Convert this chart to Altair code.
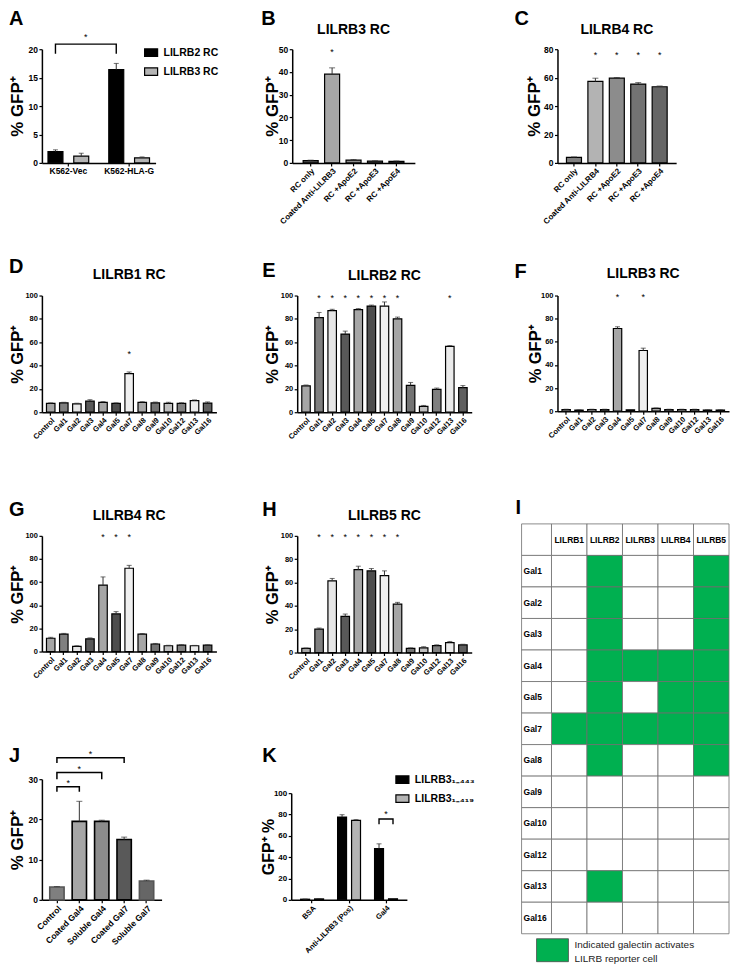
import altair as alt
import pandas as pd

FONT = "Liberation Sans"
YT = "% GFP\u207a"

# ---------------- data ----------------
# Panel A
a_groups = ["K562-Vec", "K562-HLA-G"]
a_series = ["LILRB2 RC", "LILRB3 RC"]
a_vals = {"LILRB2 RC": [2.0, 16.4], "LILRB3 RC": [1.2, 0.9]}
a_errs = {"LILRB2 RC": [0.3, 1.1], "LILRB3 RC": [0.5, 0.15]}
a_colors = ["#000000", "#b4b4b4"]
a_brackets = [("K562-Vec", "LILRB2 RC", "K562-HLA-G", "LILRB2 RC", 19.2, 20.9, 22.4)]

# Panel B
b_cats = ["RC only", "Coated Anti-LILRB3", "RC +ApoE2", "RC +ApoE3", "RC +ApoE4"]
b_vals = [1.0, 39.0, 1.2, 0.8, 0.7]
b_errs = [0.2, 2.8, 0.3, 0.15, 0.15]
b_colors = ["#595959", "#a6a6a6", "#8c8c8c", "#666666", "#4d4d4d"]
b_stars = ["Coated Anti-LILRB3"]
b_star_y = 49.0

# Panel C
c_cats = ["RC only", "Coated Anti-LILRB4", "RC +ApoE2", "RC +ApoE3", "RC +ApoE4"]
c_vals = [3.9, 57.3, 59.6, 55.5, 53.6]
c_errs = [0.3, 2.3, 0.5, 1.0, 0.5]
c_colors = ["#808080", "#b3b3b3", "#8c8c8c", "#737373", "#666666"]
c_stars = ["Coated Anti-LILRB4", "RC +ApoE2", "RC +ApoE3", "RC +ApoE4"]
c_star_y = 76.5

# Panels D-H (galectin screens)
gal_cats = ["Control", "Gal1", "Gal2", "Gal3", "Gal4", "Gal5", "Gal7", "Gal8",
            "Gal9", "Gal10", "Gal12", "Gal13", "Gal16"]
gal_colors = ["#a6a6a6", "#7f7f7f", "#e6e6e6", "#595959", "#a6a6a6", "#4d4d4d", "#efefef",
              "#a6a6a6", "#737373", "#bfbfbf", "#808080", "#ebebeb", "#5f5f5f"]

d_vals = [7.5, 8.0, 7.2, 9.5, 8.5, 7.5, 33.0, 8.5, 8.0, 7.5, 7.5, 10.0, 7.8]
d_errs = [0.5, 0.5, 0.5, 1.2, 0.6, 0.5, 1.5, 0.5, 0.7, 1.0, 0.6, 0.5, 1.0]
d_stars = ["Gal7"]
d_star_y = 51.0

e_vals = [22.5, 81.0, 87.0, 67.0, 88.0, 91.0, 91.0, 80.0, 23.0, 5.0, 19.5, 56.5, 21.0]
e_errs = [0.8, 4.5, 1.2, 2.5, 0.8, 0.8, 3.5, 1.5, 2.5, 0.8, 1.2, 0.6, 1.8]
e_stars = ["Gal1", "Gal2", "Gal3", "Gal4", "Gal5", "Gal7", "Gal8", "Gal13"]
e_star_y = 99.0

f_vals = [1.5, 1.0, 1.5, 1.5, 71.5, 1.2, 52.5, 2.5, 1.5, 1.5, 1.5, 1.0, 1.0]
f_errs = [0.2, 0.2, 0.2, 0.2, 1.5, 0.2, 2.0, 0.3, 0.2, 0.2, 0.2, 0.2, 0.2]
f_stars = ["Gal4", "Gal7"]
f_star_y = 100.0

g_vals = [11.5, 15.0, 4.5, 11.0, 57.5, 32.5, 72.0, 15.0, 6.5, 5.0, 5.5, 5.0, 5.5]
g_errs = [0.8, 0.7, 0.5, 0.8, 7.0, 2.0, 2.5, 0.6, 0.5, 0.4, 0.4, 0.3, 0.3]
g_stars = ["Gal4", "Gal5", "Gal7"]
g_star_y = 100.0

h_vals = [3.5, 20.0, 61.5, 31.0, 71.0, 70.0, 66.0, 41.5, 3.5, 4.0, 6.0, 8.5, 6.5]
h_errs = [0.4, 1.0, 2.0, 2.0, 3.0, 2.0, 4.0, 1.5, 0.5, 1.0, 0.6, 1.0, 0.6]
h_stars = ["Gal1", "Gal2", "Gal3", "Gal4", "Gal5", "Gal7", "Gal8"]
h_star_y = 99.5

# Panel I
i_cols = ["LILRB1", "LILRB2", "LILRB3", "LILRB4", "LILRB5"]
i_rows = ["Gal1", "Gal2", "Gal3", "Gal4", "Gal5", "Gal7", "Gal8", "Gal9", "Gal10",
          "Gal12", "Gal13", "Gal16"]
i_active = {
    "Gal1": ["LILRB2", "LILRB5"],
    "Gal2": ["LILRB2", "LILRB5"],
    "Gal3": ["LILRB2", "LILRB5"],
    "Gal4": ["LILRB2", "LILRB3", "LILRB4", "LILRB5"],
    "Gal5": ["LILRB2", "LILRB4", "LILRB5"],
    "Gal7": ["LILRB1", "LILRB2", "LILRB3", "LILRB4", "LILRB5"],
    "Gal8": ["LILRB2", "LILRB5"],
    "Gal13": ["LILRB2"],
}
i_legend = ["Indicated galectin activates", "LILRB reporter cell"]

# Panel J
j_cats = ["Control", "Coated Gal4", "Soluble Gal4", "Coated Gal7", "Soluble Gal7"]
j_vals = [3.2, 19.5, 19.5, 15.0, 4.7]
j_errs = [0.1, 5.0, 0.3, 0.6, 0.2]
j_colors = ["#7f7f7f", "#a6a6a6", "#8c8c8c", "#595959", "#666666"]
j_strokes = ["#555555", "#000000", "#000000", "#000000", "#555555"]
j_brackets = [("Control", "Coated Gal4", 26.9, 28.1, 29.4),
              ("Control", "Soluble Gal4", 30.0, 31.65, 32.9),
              ("Control", "Coated Gal7", 34.0, 35.3, 36.6)]

# Panel K
k_groups = ["BSA", "Anti-LILRB3 (Pos)", "Gal4"]
k_series = ["LILRB3\u2081\u208b\u2084\u2084\u2083", "LILRB3\u2081\u208b\u2084\u2081\u2089"]
k_vals = {k_series[0]: [0.6, 77.6, 48.1], k_series[1]: [0.9, 74.5, 1.0]}
k_errs = {k_series[0]: [0.2, 2.2, 4.4], k_series[1]: [0.2, 0.7, 0.3]}
k_colors = ["#000000", "#b4b4b4"]
k_brackets = [("Gal4", k_series[0], "Gal4", k_series[1], 70.8, 75.8, 81.4)]


# ---------------- helpers ----------------
def one():
    return pd.DataFrame({"z": [0]})


def frame(x0, x1, y0, y1):
    return alt.Chart(one()).mark_rect(opacity=0).encode(
        x=alt.value(x0), x2=alt.value(x1), y=alt.value(y0), y2=alt.value(y1))


def letter(t, x, y):
    return alt.Chart(one()).mark_text(
        text=t, fontSize=20, fontWeight="bold", align="left", baseline="top",
        color="black").encode(x=alt.value(x), y=alt.value(y))


def title_text(t, x, y):
    return alt.Chart(one()).mark_text(
        text=t, fontSize=14, fontWeight="bold", align="center", baseline="middle",
        color="black").encode(x=alt.value(x), y=alt.value(y))


def xaxis(angle=-45, size=7.5):
    return alt.Axis(title=None, labelAngle=angle, labelFontSize=size, labelFontWeight="bold",
                    labelOverlap=False, tickSize=3, tickWidth=1.2, domainWidth=1.5,
                    labelPadding=1, labelColor="black", tickColor="black",
                    domainColor="black", grid=False)


def yaxis(ticks, tx, tsize=17, lsize=7.5, title=YT):
    return alt.Axis(values=ticks, title=title, titleX=tx, titleBaseline="middle",
                    titleFontSize=tsize, titleFontWeight="bold", titleColor="black",
                    labelFontSize=lsize, labelFontWeight="bold", labelColor="black",
                    tickSize=3, tickWidth=1.2, domainWidth=1.5, labelPadding=1.5,
                    tickColor="black", domainColor="black", grid=False, minExtent=0)


def bar_panel(cats, vals, errs, colors, ymax, yticks, w, h, fr, let, let_xy,
              title=None, title_y=-20, ytx=-24, ytsize=17, ylab=7.5, xlab=7.5,
              pin=0.35, pout=0.35, stars=(), star_y=None, cap=5, strokes=None,
              sw=1.2, brackets=()):
    df = pd.DataFrame({"cat": cats, "v": vals, "e": errs})
    df["top"] = df["v"] + df["e"]
    if strokes is None:
        strokes = ["#000000"] * len(cats)
    xs = alt.Scale(domain=cats, paddingInner=pin, paddingOuter=pout)
    ys = alt.Scale(domain=[0, ymax], nice=False, zero=True)
    yax = yaxis(yticks, ytx, ytsize, ylab)
    X = alt.X("cat:N", scale=xs, sort=cats, title=None, axis=xaxis(size=xlab))

    def Y(f):
        return alt.Y(f, scale=ys, title=YT, axis=yax)

    layers = [frame(*fr)]
    layers.append(alt.Chart(df).mark_bar(strokeWidth=sw).encode(
        x=X, y=Y("v:Q"),
        fill=alt.Fill("cat:N", scale=alt.Scale(domain=cats, range=colors), legend=None),
        stroke=alt.Stroke("cat:N", scale=alt.Scale(domain=cats, range=strokes), legend=None)))
    layers.append(alt.Chart(df).mark_rule(color="#333333", strokeWidth=1).encode(
        x=X, y=Y("v:Q"), y2="top:Q"))
    layers.append(alt.Chart(df).mark_tick(color="#333333", size=cap, thickness=1).encode(
        x=X, y=Y("top:Q")))
    if stars:
        sdf = pd.DataFrame({"cat": list(stars), "sy": [star_y] * len(stars)})
        layers.append(alt.Chart(sdf).mark_text(text="*", fontSize=9, baseline="alphabetic",
                                               dy=4, color="black").encode(x=X, y=Y("sy:Q")))
    step = w / (len(cats) - pin + 2 * pout)
    for (c1, c2, yl, yh, ysr) in brackets:
        bdf = pd.DataFrame({"cat": [c1, c1, c2, c2], "y": [yl, yh, yh, yl],
                            "k": [0, 1, 2, 3]})
        layers.append(alt.Chart(bdf).mark_line(color="black", strokeWidth=1.5).encode(
            x=X, y=Y("y:Q"), order="k:Q"))
        n = cats.index(c2) - cats.index(c1)
        sdf = pd.DataFrame({"cat": [c2], "sy": [ysr]})
        layers.append(alt.Chart(sdf).mark_text(text="*", fontSize=9, baseline="alphabetic",
                                               dy=4, dx=-n * step / 2,
                                               color="black").encode(x=X, y=Y("sy:Q")))
    layers.append(letter(let, *let_xy))
    if title:
        layers.append(title_text(title, w / 2, title_y))
    return alt.layer(*layers).properties(width=w, height=h)


def grouped_panel(groups, series, vals, errs, colors, ymax, yticks, w, h, fr, let, let_xy,
                  legend_xy, pin, pout, pin2, ytx, ytitle, ytsize, ylab, xlab, xangle,
                  brackets, cap=5, yrange=None):
    rows = []
    for s in series:
        for g, v, e in zip(groups, vals[s], errs[s]):
            rows.append({"grp": g, "ser": s, "v": v, "e": e})
    df = pd.DataFrame(rows)
    df["top"] = df["v"] + df["e"]
    xs = alt.Scale(domain=groups, paddingInner=pin, paddingOuter=pout)
    os_ = alt.Scale(domain=series, paddingInner=pin2, paddingOuter=0)
    if yrange is None:
        ys = alt.Scale(domain=[0, ymax], nice=False, zero=True)
    else:
        ys = alt.Scale(domain=[0, ymax], nice=False, zero=True, range=yrange)
    yax = yaxis(yticks, ytx, ytsize, ylab, title=ytitle)
    X = alt.X("grp:N", scale=xs, sort=groups, title=None, axis=xaxis(angle=xangle, size=xlab))
    XO = alt.XOffset("ser:N", scale=os_, sort=series)

    def Y(f):
        return alt.Y(f, scale=ys, title=ytitle, axis=yax)

    leg = alt.Legend(title=None, orient="none", legendX=legend_xy[0], legendY=legend_xy[1],
                     direction="vertical", symbolType="M-1,-0.58H1V0.58H-1Z",
                     symbolSize=170, symbolStrokeColor="black", symbolStrokeWidth=1.2,
                     labelFontSize=10.5, labelFontWeight="bold", labelColor="black",
                     rowPadding=5, labelOffset=5)
    layers = [frame(*fr)]
    layers.append(alt.Chart(df).mark_bar(stroke="black", strokeWidth=1.2).encode(
        x=X, xOffset=XO, y=Y("v:Q"),
        fill=alt.Fill("ser:N", scale=alt.Scale(domain=series, range=colors), legend=leg)))
    layers.append(alt.Chart(df).mark_rule(color="#333333", strokeWidth=1).encode(
        x=X, xOffset=XO, y=Y("v:Q"), y2="top:Q"))
    layers.append(alt.Chart(df).mark_tick(color="#333333", size=cap, thickness=1).encode(
        x=X, xOffset=XO, y=Y("top:Q")))
    step = w / (len(groups) - pin + 2 * pout)
    for (g1, s1, g2, s2, yl, yh, ysr) in brackets:
        bdf = pd.DataFrame({"grp": [g1, g1, g2, g2], "ser": [s1, s1, s2, s2],
                            "y": [yl, yh, yh, yl], "k": [0, 1, 2, 3]})
        layers.append(alt.Chart(bdf).mark_line(color="black", strokeWidth=1.4).encode(
            x=X, xOffset=XO, y=Y("y:Q"), order="k:Q"))
        if g1 == g2:
            sdf = pd.DataFrame({"grp": [g1], "sy": [ysr]})
            layers.append(alt.Chart(sdf).mark_text(text="*", fontSize=9, baseline="alphabetic",
                                                   dy=4, color="black").encode(
                x=X, y=Y("sy:Q")))
        else:
            n = groups.index(g2) - groups.index(g1)
            sdf = pd.DataFrame({"grp": [g2], "ser": [s2], "sy": [ysr]})
            layers.append(alt.Chart(sdf).mark_text(text="*", fontSize=9, baseline="alphabetic",
                                                   dy=4, dx=-n * step / 2,
                                                   color="black").encode(
                x=X, xOffset=XO, y=Y("sy:Q")))
    layers.append(letter(let, *let_xy))
    return alt.layer(*layers).properties(width=w, height=h)


def table_panel(w, h, top, lab_w, fr, let_xy):
    br = "hdrr"
    ydom = [br] + i_rows
    cells = []
    for r in ydom:
        for c in i_cols:
            on = r in i_active and c in i_active[r]
            cells.append({"c": c, "r": r, "s": "on" if on else "off"})
    cdf = pd.DataFrame(cells)
    xs = alt.Scale(domain=i_cols, paddingInner=0, paddingOuter=0)
    ys = alt.Scale(domain=ydom, paddingInner=0, paddingOuter=0, range=[top, h])
    Yr = alt.Y("r:N", scale=ys, sort=ydom, axis=None)
    layers = [frame(*fr)]
    layers.append(alt.Chart(cdf).mark_rect(stroke="#6f6f6f", strokeWidth=0.8).encode(
        x=alt.X("c:N", scale=xs, sort=i_cols, axis=None), y=Yr,
        fill=alt.Fill("s:N", scale=alt.Scale(domain=["off", "on"],
                                             range=["#ffffff", "#00b050"]), legend=None)))
    ldf = pd.DataFrame({"r": ydom, "lab": [""] + i_rows})
    layers.append(alt.Chart(ldf).mark_rect(fill="#ffffff", stroke="#6f6f6f",
                                           strokeWidth=0.8).encode(
        x=alt.value(-lab_w), x2=alt.value(0), y=Yr))
    layers.append(alt.Chart(ldf).mark_text(fontSize=8.5, fontWeight="bold", align="left",
                                           color="black").encode(
        x=alt.value(-lab_w + 2), y=Yr, text="lab:N"))
    hdf = pd.DataFrame({"c": i_cols, "r": [br] * len(i_cols)})
    layers.append(alt.Chart(hdf).mark_text(fontSize=8.5, fontWeight="bold", color="black").encode(
        x=alt.X("c:N", scale=xs, sort=i_cols, axis=None), y=Yr, text="c:N"))
    layers.append(alt.Chart(one()).mark_rect(fill="#00b050", stroke="#4d4d4d",
                                             strokeWidth=0.8).encode(
        x=alt.value(-15), x2=alt.value(17), y=alt.value(h + 5), y2=alt.value(h + 28)))
    layers.append(alt.Chart(one()).mark_text(text=i_legend[0], fontSize=10, align="left",
                                             baseline="middle", color="#222222").encode(
        x=alt.value(23), y=alt.value(h + 11)))
    layers.append(alt.Chart(one()).mark_text(text=i_legend[1], fontSize=10, align="left",
                                             baseline="middle", color="#222222").encode(
        x=alt.value(23), y=alt.value(h + 25)))
    layers.append(letter("I", *let_xy))
    return alt.layer(*layers).properties(width=w, height=h)


# ---------------- panels ----------------
# The whole figure is kept within 722 px width (page x 8..730) so that it is not shrunk.
# Row 1 (plot origins at y=48 on the page)
A = grouped_panel(a_groups, a_series, a_vals, a_errs, a_colors, 20, [0, 5, 10, 15, 20],
                  114, 114, (-33, 209, -40, 192), "A", (-33, -40), (102, -4),
                  0.33, 0.1, 0.42, -24.5, YT, 17, 8.5, 8.5, 0, a_brackets)
B = bar_panel(b_cats, b_vals, b_errs, b_colors, 50, [0, 10, 20, 30, 40, 50], 123, 114,
              (-42, 213, -40, 192), "B", (-31, -40), title="LILRB3 RC", title_y=-19,
              ytx=-19.5, ylab=8.5, xlab=8, pin=0.3, pout=0.51, stars=b_stars,
              star_y=b_star_y, cap=6)
C = bar_panel(c_cats, c_vals, c_errs, c_colors, 80, [0, 20, 40, 60, 80], 119, 114,
              (-53, 172, -40, 192), "C", (-43, -40), title="LILRB4 RC", title_y=-19,
              ytx=-23.5, ylab=8.5, xlab=8, pin=0.3, pout=0.42, stars=c_stars,
              star_y=c_star_y, cap=6)

# Row 2 (origins at y=295)
gt = [0, 20, 40, 60, 80, 100]
D = bar_panel(gal_cats, d_vals, d_errs, gal_colors, 100, gt, 175, 117,
              (-33, 209, -55, 187), "D", (-33, -38.5), title="LILRB1 RC", title_y=-21,
              ytx=-24.5, ytsize=16.5, stars=d_stars, star_y=d_star_y)
E = bar_panel(gal_cats, e_vals, e_errs, gal_colors, 100, gt, 175, 117,
              (-47, 208, -55, 187), "E", (-35, -34.5), title="LILRB2 RC", title_y=-20,
              ytx=-25, ytsize=16.5, stars=e_stars, star_y=e_star_y)
F = bar_panel(gal_cats, f_vals, f_errs, gal_colors, 100, gt, 172, 116,
              (-53, 172, -55, 187), "F", (-43, -33.5), title="LILRB3 RC", title_y=-22,
              ytx=-22, ytsize=16.5, stars=f_stars, star_y=f_star_y)

# Row 3 (origins at y=536)
G = bar_panel(gal_cats, g_vals, g_errs, gal_colors, 100, gt, 175, 116,
              (-33, 209, -54, 176), "G", (-33, -35.5), title="LILRB4 RC", title_y=-20,
              ytx=-24.5, ytsize=16.5, stars=g_stars, star_y=g_star_y)
H = bar_panel(gal_cats, h_vals, h_errs, gal_colors, 100, gt, 175, 117,
              (-47, 208, -54, 176), "H", (-35, -35.5), title="LILRB5 RC", title_y=-20,
              ytx=-24.5, ytsize=16.5, stars=h_stars, star_y=h_star_y)
I = table_panel(178, 399, -12, 30, (-47, 178, -54, 429), (-36, -37.5))

# Row 4 (origins at y=780)
J = bar_panel(j_cats, j_vals, j_errs, j_colors, 30, [0, 10, 20, 30], 120, 121,
              (-33, 209, -68, 185), "J", (-33, -33.5), ytx=-24.5, ylab=8.5, xlab=8.5,
              pin=0.36, pout=0.35, cap=6, strokes=j_strokes, sw=1.6, brackets=j_brackets)
K = grouped_panel(k_groups, k_series, k_vals, k_errs, k_colors, 100, [0, 20, 40, 60, 80, 100],
                  116, 121, (-41, 214, -68, 185), "K", (-29, -33.5), (104, -7),
                  0.38, 0.255, 0.36, -22.5, "GFP\u207a %", 16, 8, 7.5, -45, k_brackets,
                  yrange=[121, 14])


def indep(c):
    return c.resolve_scale(fill="independent", stroke="independent",
                           xOffset="independent").resolve_legend(
        fill="independent", stroke="independent")


row1 = indep(alt.hconcat(A, B, C, spacing=0))
row2 = indep(alt.hconcat(D, E, F, spacing=0))
gh = indep(alt.hconcat(G, H, spacing=0))
jk = indep(alt.hconcat(J, K, spacing=0))
left = indep(alt.vconcat(gh, jk, spacing=0))
row3 = indep(alt.hconcat(left, I, spacing=0))

chart = indep(alt.vconcat(row1, row2, row3, spacing=0, padding=0)).configure(
    font=FONT, padding=0).configure_view(strokeWidth=0).configure_concat(
    spacing=0).configure_axis(labelFont=FONT, titleFont=FONT).configure_legend(labelFont=FONT)

chart.save("out.html", embed_options={"renderer": "svg", "actions": False})
